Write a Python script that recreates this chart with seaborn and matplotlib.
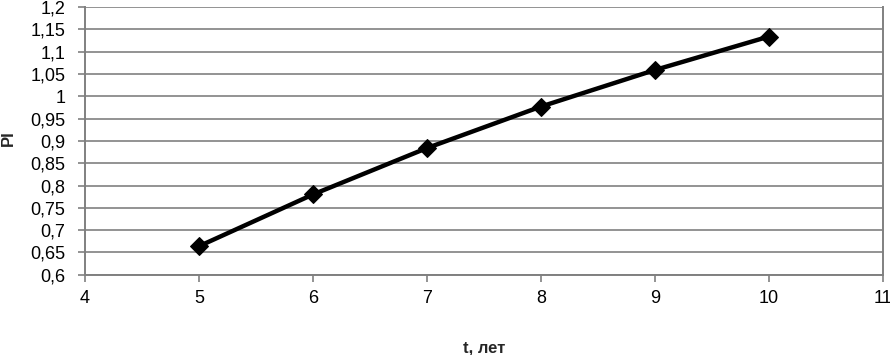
import matplotlib
matplotlib.use("Agg")
import matplotlib.pyplot as plt
import seaborn as sns
import pandas as pd
from matplotlib.ticker import FuncFormatter, MultipleLocator

# Values
years = [5, 6, 7, 8, 9, 10]
pi_values = [0.664, 0.780, 0.884, 0.977, 1.059, 1.134]

data = pd.DataFrame({"t": years, "PI": pi_values})

sns.set_style("white")
plt.rcParams["font.family"] = ["Liberation Sans", "DejaVu Sans"]

fig = plt.figure(figsize=(8.9, 3.55), dpi=100)
ax = fig.add_axes([0.0955, 0.226, 0.8965, 0.754])

sns.lineplot(x="t", y="PI", data=data, ax=ax, color="black", linewidth=3.2,
             marker="D", markersize=9, markeredgecolor="black", zorder=3)

ax.set_xlim(4, 11)
ax.set_ylim(0.6, 1.2)
ax.xaxis.set_major_locator(MultipleLocator(1))
ax.yaxis.set_major_locator(MultipleLocator(0.05))


def comma(v, pos):
    return f"{round(v, 3):g}".replace(".", ",")


ax.yaxis.set_major_formatter(FuncFormatter(comma))
ax.xaxis.set_major_formatter(FuncFormatter(comma))

ax.grid(axis="y", color="#808080", linewidth=1.2)
ax.grid(axis="x", visible=False)
for side in ["left", "bottom", "right"]:
    ax.spines[side].set_visible(True)
    ax.spines[side].set_color("#808080")
    ax.spines[side].set_linewidth(1.4)
ax.spines["top"].set_visible(False)
ax.tick_params(axis="both", direction="out", length=5, width=1.2, color="#808080",
               labelsize=13, labelcolor="black", bottom=True, left=True)
ax.tick_params(axis="y", pad=9)
ax.tick_params(axis="x", pad=6)

ax.set_xlabel("t, лет", fontsize=12, fontweight="bold")
ax.set_ylabel("PI", fontsize=12, fontweight="bold")
ax.xaxis.set_label_coords(0.5, -0.245)
ax.yaxis.set_label_coords(-0.0965, 0.51)
ax.yaxis.label.set_verticalalignment("center")

fig.savefig("out.png", dpi=100)
